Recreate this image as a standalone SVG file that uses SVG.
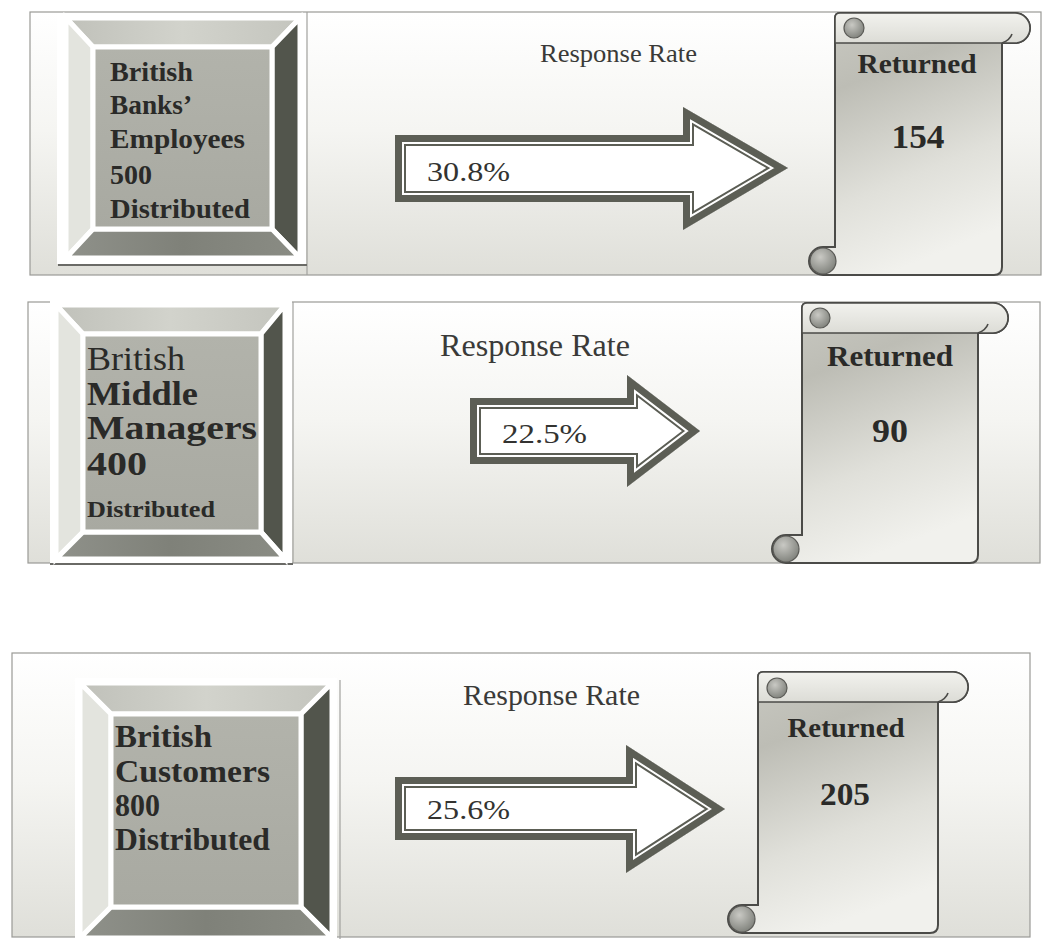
<svg xmlns="http://www.w3.org/2000/svg" width="1043" height="939" viewBox="0 0 1043 939">
  <style>
    .panel { stroke: #9a9a96; stroke-width: 1.2; fill: url(#panelFill); }
    .divider { stroke: #a2a29e; stroke-width: 1.2; }
    .frame { fill: #ffffff; }
    .shadow { stroke: #6a6a66; stroke-width: 2; }
    .bev { stroke: #ffffff; stroke-width: 5; stroke-linejoin: miter; }
    .bev-top { fill: url(#bevTop); }
    .bev-left { fill: #e3e4de; }
    .bev-right { fill: #52554c; }
    .bev-bottom { fill: url(#bevBottom); }
    .bev-face { fill: url(#faceFill); stroke: #ffffff; stroke-width: 5; }
    .lbl { font-family: "Liberation Serif", "Times New Roman", serif; fill: #2a2a28; }
    .b { font-weight: bold; }
    .rate { font-family: "Liberation Serif", "Times New Roman", serif; fill: #3a3a38; }
    .pct { font-family: "Liberation Serif", "Times New Roman", serif; fill: #333331; }
    .arrow-fill { fill: #ffffff; }
    .band-wide { fill: none; stroke: #5c5e55; stroke-width: 22; stroke-linejoin: miter; }
    .band-gap { fill: none; stroke: #ffffff; stroke-width: 18; stroke-linejoin: miter; }
    .band-thick { fill: none; stroke: #5c5e55; stroke-width: 14; stroke-linejoin: miter; }
    .scroll-body { fill: url(#scrollFill); stroke: #4b4b48; stroke-width: 2; }
    .scroll-roll { fill: url(#rollFill); stroke: #4b4b48; stroke-width: 1.6; }
    .scroll-curl { fill: url(#curlFill); stroke: #5a5a56; stroke-width: 1.2; }
    .roll-edge { stroke: #4b4b48; stroke-width: 1.6; fill: none; }
  </style>
  <defs>
    <linearGradient id="panelFill" x1="0" y1="0" x2="0" y2="1">
      <stop offset="0" stop-color="#ffffff"/>
      <stop offset="0.45" stop-color="#f5f5f2"/>
      <stop offset="1" stop-color="#dfdfd9"/>
    </linearGradient>
    <linearGradient id="bevTop" x1="0" y1="0" x2="1" y2="0">
      <stop offset="0" stop-color="#c0c1ba"/>
      <stop offset="0.5" stop-color="#d2d3cc"/>
      <stop offset="1" stop-color="#c4c5be"/>
    </linearGradient>
    <linearGradient id="bevBottom" x1="0" y1="0" x2="1" y2="0">
      <stop offset="0" stop-color="#8f918a"/>
      <stop offset="0.5" stop-color="#7f8179"/>
      <stop offset="1" stop-color="#8a8c84"/>
    </linearGradient>
    <linearGradient id="faceFill" x1="0" y1="0" x2="0" y2="1">
      <stop offset="0" stop-color="#b2b3ab"/>
      <stop offset="1" stop-color="#a8a9a1"/>
    </linearGradient>
    <linearGradient id="scrollFill" x1="0" y1="0" x2="0.35" y2="1">
      <stop offset="0" stop-color="#cacac3"/>
      <stop offset="0.3" stop-color="#bdbdb5"/>
      <stop offset="0.7" stop-color="#e0e0da"/>
      <stop offset="1" stop-color="#f1f1ed"/>
    </linearGradient>
    <linearGradient id="rollFill" x1="0" y1="0" x2="0" y2="1">
      <stop offset="0" stop-color="#f2f2ee"/>
      <stop offset="1" stop-color="#dcdcd6"/>
    </linearGradient>
    <radialGradient id="curlFill" cx="0.4" cy="0.35" r="0.7">
      <stop offset="0" stop-color="#c9c9c4"/>
      <stop offset="1" stop-color="#7d7f79"/>
    </radialGradient>
    <clipPath id="clipArrow1"><path d="M395,135 H683 V107 L788,168 L683,230 V202 H395 Z"/></clipPath>
    <clipPath id="clipArrow2"><path d="M470,398 H627 V375 L700,431 L627,487 V464 H470 Z"/></clipPath>
    <clipPath id="clipArrow3"><path d="M395,777 H626 V745 L725,809 L626,873 V840 H395 Z"/></clipPath>
  </defs>

  <rect width="1043" height="939" fill="#ffffff"/>

  <!-- panel backgrounds -->
  <g id="panels">
    <rect class="panel" x="30" y="12" width="1011" height="263"/>
    <line class="divider" x1="307" y1="12" x2="307" y2="275"/>
    <rect class="panel" x="28" y="302" width="1012" height="261"/>
    <line class="divider" x1="293" y1="302" x2="293" y2="563"/>
    <rect class="panel" x="12" y="653" width="1018" height="284"/>
    <line class="divider" x1="340" y1="680" x2="340" y2="939"/>
  </g>

  <!-- source group 1 -->
  <g id="source-bank-employees">
    <rect class="frame" x="57" y="13" width="249" height="251"/>
    <line class="shadow" x1="58" y1="265" x2="307" y2="265"/>
    <polygon class="bev bev-top" points="66,18 300,18 272,47 93,47"/>
    <polygon class="bev bev-left" points="66,18 93,47 93,229 66,258"/>
    <polygon class="bev bev-right" points="300,18 300,258 272,229 272,47"/>
    <polygon class="bev bev-bottom" points="66,258 93,229 272,229 300,258"/>
    <rect class="bev-face" x="93" y="47" width="179" height="182"/>
    <text class="lbl b" font-size="28" x="110" y="81" textLength="83" lengthAdjust="spacingAndGlyphs">British</text>
    <text class="lbl b" font-size="28" x="110" y="114" textLength="82" lengthAdjust="spacingAndGlyphs">Banks’</text>
    <text class="lbl b" font-size="28" x="110" y="148" textLength="135" lengthAdjust="spacingAndGlyphs">Employees</text>
    <text class="lbl b" font-size="28" x="110" y="184" textLength="42" lengthAdjust="spacingAndGlyphs">500</text>
    <text class="lbl b" font-size="28" x="110" y="218" textLength="140" lengthAdjust="spacingAndGlyphs">Distributed</text>
  </g>

  <!-- source group 2 -->
  <g id="source-middle-managers">
    <rect class="frame" x="50" y="301" width="242" height="262"/>
    <line class="shadow" x1="50" y1="564" x2="293" y2="564"/>
    <polygon class="bev bev-top" points="56,305 285,305 261,334 83,334"/>
    <polygon class="bev bev-left" points="56,305 83,334 83,532 56,559"/>
    <polygon class="bev bev-right" points="285,305 285,559 261,532 261,334"/>
    <polygon class="bev bev-bottom" points="56,559 83,532 261,532 285,559"/>
    <rect class="bev-face" x="83" y="334" width="178" height="198"/>
    <text class="lbl" font-size="33" x="87" y="370" textLength="98" lengthAdjust="spacingAndGlyphs">British</text>
    <text class="lbl b" font-size="33" x="87" y="405" textLength="111" lengthAdjust="spacingAndGlyphs">Middle</text>
    <text class="lbl b" font-size="33" x="87" y="439" textLength="170" lengthAdjust="spacingAndGlyphs">Managers</text>
    <text class="lbl b" font-size="33" x="87" y="475" textLength="60" lengthAdjust="spacingAndGlyphs">400</text>
    <text class="lbl b" font-size="23" x="87" y="517" textLength="128" lengthAdjust="spacingAndGlyphs">Distributed</text>
  </g>

  <!-- source group 3 -->
  <g id="source-customers">
    <rect class="frame" x="75" y="678" width="262" height="261"/>
    <polygon class="bev bev-top" points="80,683 332,683 301,714 111,714"/>
    <polygon class="bev bev-left" points="80,683 111,714 111,907 80,938"/>
    <polygon class="bev bev-right" points="332,683 332,938 301,907 301,714"/>
    <polygon class="bev bev-bottom" points="80,938 111,907 301,907 332,938"/>
    <rect class="bev-face" x="111" y="714" width="190" height="193"/>
    <text class="lbl b" font-size="32" x="115" y="747" textLength="97" lengthAdjust="spacingAndGlyphs">British</text>
    <text class="lbl b" font-size="32" x="115" y="782" textLength="155" lengthAdjust="spacingAndGlyphs">Customers</text>
    <text class="lbl b" font-size="32" x="115" y="816" textLength="45" lengthAdjust="spacingAndGlyphs">800</text>
    <text class="lbl b" font-size="32" x="115" y="850" textLength="155" lengthAdjust="spacingAndGlyphs">Distributed</text>
  </g>

  <!-- returned scrolls -->
  <g id="returned-154">
    <path class="scroll-body" d="M835,18 Q835,13 840,13 H1015 A15 15 0 0 1 1015,43 H1002 V267 Q1002,275 994,275 H823 A14 14 0 0 1 823,247 H835 Z"/>
    <path class="scroll-roll" d="M835,18 Q835,13 840,13 H1015 A15 15 0 0 1 1015,43 H835 Z"/>
    <path class="roll-edge" d="M1002,43 Q1010,40 1012,34"/>
    <circle class="scroll-curl" cx="854" cy="28" r="10"/>
    <circle class="scroll-curl" cx="823" cy="261" r="13"/>
    <text class="lbl b" font-size="28" x="917" y="73" text-anchor="middle" textLength="119" lengthAdjust="spacingAndGlyphs">Returned</text>
    <text class="lbl b" font-size="34" x="918" y="148" text-anchor="middle" textLength="53" lengthAdjust="spacingAndGlyphs">154</text>
  </g>

  <g id="returned-90">
    <path class="scroll-body" d="M802,308 Q802,303 807,303 H993 A15 15 0 0 1 993,333 H978 V555 Q978,563 970,563 H786 A14 14 0 0 1 786,535 H802 Z"/>
    <path class="scroll-roll" d="M802,308 Q802,303 807,303 H993 A15 15 0 0 1 993,333 H802 Z"/>
    <path class="roll-edge" d="M978,333 Q986,330 988,324"/>
    <circle class="scroll-curl" cx="820" cy="318" r="10"/>
    <circle class="scroll-curl" cx="786" cy="549" r="13"/>
    <text class="lbl b" font-size="30" x="890" y="366" text-anchor="middle" textLength="126" lengthAdjust="spacingAndGlyphs">Returned</text>
    <text class="lbl b" font-size="34" x="890" y="442" text-anchor="middle" textLength="36" lengthAdjust="spacingAndGlyphs">90</text>
  </g>

  <g id="returned-205">
    <path class="scroll-body" d="M758,677 Q758,672 763,672 H953 A15 15 0 0 1 953,702 H938 V925 Q938,933 930,933 H742 A14 14 0 0 1 742,905 H758 Z"/>
    <path class="scroll-roll" d="M758,677 Q758,672 763,672 H953 A15 15 0 0 1 953,702 H758 Z"/>
    <path class="roll-edge" d="M938,702 Q946,699 948,693"/>
    <circle class="scroll-curl" cx="777" cy="688" r="10"/>
    <circle class="scroll-curl" cx="742" cy="919" r="13"/>
    <text class="lbl b" font-size="28" x="846" y="737" text-anchor="middle" textLength="117" lengthAdjust="spacingAndGlyphs">Returned</text>
    <text class="lbl b" font-size="32" x="845" y="805" text-anchor="middle" textLength="50" lengthAdjust="spacingAndGlyphs">205</text>
  </g>

  <!-- response-rate arrows -->
  <g id="connectors">
    <g id="rate-30-8">
      <text class="rate" font-size="25" x="540" y="62" textLength="157" lengthAdjust="spacingAndGlyphs">Response Rate</text>
      <path class="arrow-fill" d="M395,135 H683 V107 L788,168 L683,230 V202 H395 Z"/>
      <g clip-path="url(#clipArrow1)">
        <path class="band-wide" d="M395,135 H683 V107 L788,168 L683,230 V202 H395 Z"/>
        <path class="band-gap" d="M395,135 H683 V107 L788,168 L683,230 V202 H395 Z"/>
        <path class="band-thick" d="M395,135 H683 V107 L788,168 L683,230 V202 H395 Z"/>
      </g>
      <text class="pct" font-size="28" x="427" y="181" textLength="83" lengthAdjust="spacingAndGlyphs">30.8%</text>
    </g>
    <g id="rate-22-5">
      <text class="rate" font-size="31" x="440" y="356" textLength="190" lengthAdjust="spacingAndGlyphs">Response Rate</text>
      <path class="arrow-fill" d="M470,398 H627 V375 L700,431 L627,487 V464 H470 Z"/>
      <g clip-path="url(#clipArrow2)">
        <path class="band-wide" d="M470,398 H627 V375 L700,431 L627,487 V464 H470 Z"/>
        <path class="band-gap" d="M470,398 H627 V375 L700,431 L627,487 V464 H470 Z"/>
        <path class="band-thick" d="M470,398 H627 V375 L700,431 L627,487 V464 H470 Z"/>
      </g>
      <text class="pct" font-size="28" x="502" y="443" textLength="85" lengthAdjust="spacingAndGlyphs">22.5%</text>
    </g>
    <g id="rate-25-6">
      <text class="rate" font-size="29" x="463" y="705" textLength="177" lengthAdjust="spacingAndGlyphs">Response Rate</text>
      <path class="arrow-fill" d="M395,777 H626 V745 L725,809 L626,873 V840 H395 Z"/>
      <g clip-path="url(#clipArrow3)">
        <path class="band-wide" d="M395,777 H626 V745 L725,809 L626,873 V840 H395 Z"/>
        <path class="band-gap" d="M395,777 H626 V745 L725,809 L626,873 V840 H395 Z"/>
        <path class="band-thick" d="M395,777 H626 V745 L725,809 L626,873 V840 H395 Z"/>
      </g>
      <text class="pct" font-size="28" x="427" y="819" textLength="83" lengthAdjust="spacingAndGlyphs">25.6%</text>
    </g>
  </g>
</svg>
